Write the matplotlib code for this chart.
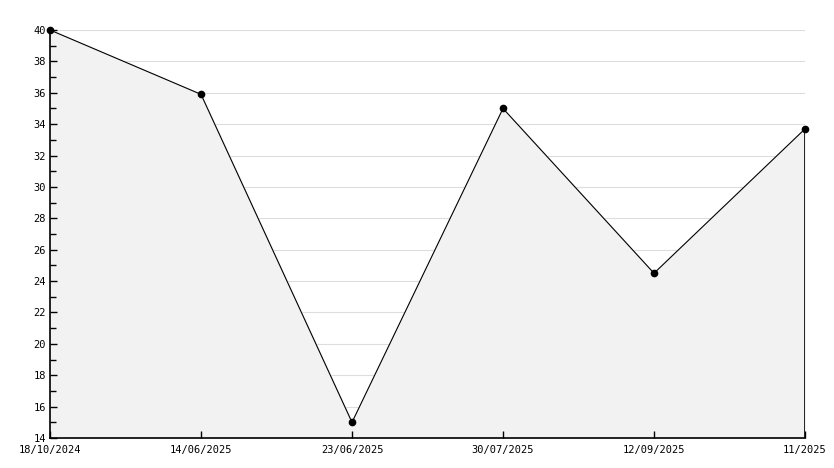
import matplotlib
matplotlib.use("Agg")
import matplotlib.pyplot as plt
import numpy as np
from matplotlib.ticker import MultipleLocator

# ---- data ----
dates = ["18/10/2024", "14/06/2025", "23/06/2025", "30/07/2025", "12/09/2025", "11/2025"]
values = [40.0, 35.9, 15.0, 35.0, 24.5, 33.7]

x = list(range(len(values)))
y_lo, y_hi = 14, 40

fig = plt.figure(figsize=(8.34, 4.68), dpi=100)
ax = fig.add_axes([50 / 834, 30 / 468, 755 / 834, 408 / 468])

ax.set_xlim(0, len(values) - 1)
ax.set_ylim(y_lo, y_hi)

ax.yaxis.set_major_locator(MultipleLocator(2))
ax.yaxis.set_minor_locator(MultipleLocator(1))

# light grid drawn below the fill, axis ticks stay on top
ax.hlines(np.arange(y_lo + 2, y_hi + 1, 2), x[0], x[-1],
          color="#dddddd", linewidth=0.8, zorder=0)

ax.fill_between(x, values, y_lo, color="#f2f2f2", zorder=1)
ax.plot(x, values, color="black", linewidth=0.8, zorder=3)
ax.plot(x, values, linestyle="none", marker="o", markersize=4.5,
        color="black", zorder=4, clip_on=False)
ax.vlines(x[-1], y_lo, values[-1], color="black", linewidth=1.2, zorder=3)

ax.set_xticks(x)
ax.set_xticklabels(dates)

for side in ["top", "right"]:
    ax.spines[side].set_visible(False)
for side in ["left", "bottom"]:
    ax.spines[side].set_linewidth(1.2)
    ax.spines[side].set_color("black")
    ax.spines[side].set_zorder(5)

ax.tick_params(axis="both", which="major", direction="in", length=5, width=1,
               labelsize=7.5, pad=3, zorder=5)
ax.tick_params(axis="y", which="minor", direction="in", length=4, width=1)
ax.tick_params(axis="x", pad=5)
for lab in ax.get_xticklabels() + ax.get_yticklabels():
    lab.set_fontfamily("DejaVu Sans Mono")
# bottom y label sits a touch higher, as in the reference
ax.get_yticklabels()[0].set_va("bottom")

fig.savefig("out.png", dpi=100)
